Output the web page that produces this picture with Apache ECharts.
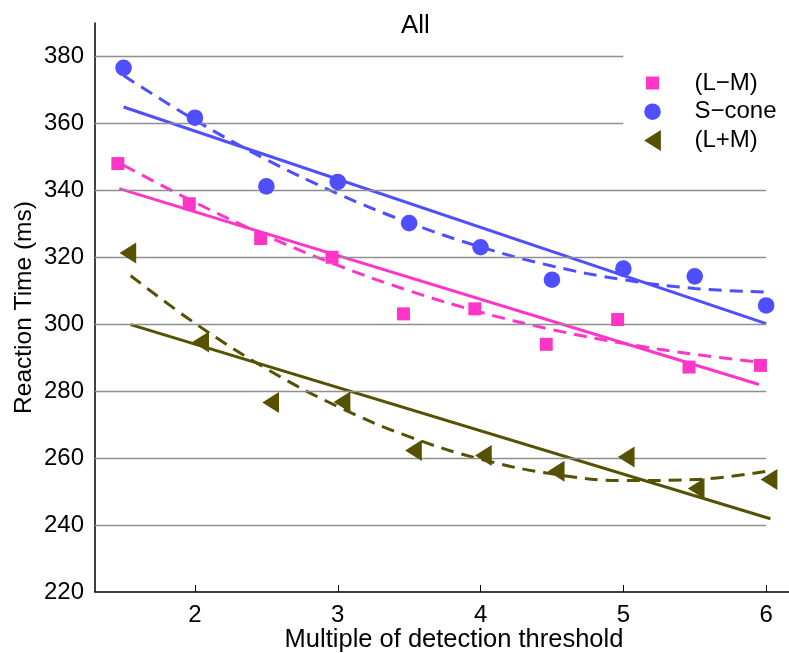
<!DOCTYPE html>
<html>
<head>
<meta charset="utf-8">
<script src="https://cdn.jsdelivr.net/npm/echarts@6/dist/echarts.min.js"></script>
<style>
html,body{margin:0;padding:0;background:#fff;}
#chart{width:789px;height:653px;}
</style>
</head>
<body>
<div id="chart"></div>
<script>
// ---- data ----
var xTicks = [2, 3, 4, 5, 6];
var yTicks = [220, 240, 260, 280, 300, 320, 340, 360, 380];
var gridLinesShort = [360, 380];          // gridlines that stop at x = 5 (behind legend)
var gridLinesLong = [240, 260, 280, 300, 320, 340];

var lmX = [1.46, 1.96, 2.46, 2.96, 3.46, 3.96, 4.46, 4.96, 5.46, 5.96];
var lmY = [348.0, 336.0, 325.6, 320.0, 303.1, 304.6, 294.0, 301.4, 287.2, 287.7];
var sX  = [1.5, 2, 2.5, 3, 3.5, 4, 4.5, 5, 5.5, 6];
var sY  = [376.6, 361.7, 341.2, 342.5, 330.2, 323.0, 313.3, 316.6, 314.3, 305.6];
var lpX = [1.53, 2.04, 2.53, 3.03, 3.53, 4.02, 4.53, 5.02, 5.51, 6.02];
var lpY = [321.3, 294.7, 276.6, 276.8, 262.3, 260.8, 256.1, 260.3, 250.9, 253.6];

// linear fits (solid)
var lmLinX = [1.47, 5.95],  lmLinY = [340.5, 282.0];
var sLinX  = [1.5, 6],      sLinY  = [364.9, 300.2];
var lpLinX = [1.55, 6.03],  lpLinY = [299.9, 241.9];

// curved fits (dashed)
var lmCurX = [1.5, 2, 2.5, 3, 3.5, 4, 4.5, 5, 5.5, 5.95];
var lmCurY = [347.5, 336.4, 326.4, 317.6, 310.0, 303.6, 298.4, 294.3, 291.0, 288.7];
var sCurX  = [1.5, 2, 2.5, 3, 3.5, 4, 4.5, 5, 5.5, 6];
var sCurY  = [374.3, 361.0, 349.2, 339.0, 330.3, 323.1, 317.4, 313.3, 310.7, 309.6];
var lpCurX = [1.55, 2, 2.5, 3, 3.5, 4, 4.5, 5, 5.5, 6.02];
var lpCurY = [314.5, 300.3, 286.7, 275.4, 266.4, 259.7, 255.3, 253.3, 253.6, 256.2];

var names = ['(L\u2212M)', 'S\u2212cone', '(L+M)'];
// ---------------------------------------

function pairs(xs, ys) { return xs.map(function (x, i) { return [x, ys[i]]; }); }

var cPink = '#ff35c8', cBlue = '#4f4fff', cOlive = '#555100';
var FONT = 'Liberation Sans';
var xMin = 1.3, xMax = 6.16;

var triPath = 'path://M0,10.5L16.7,0L16.7,21Z';
var sqIcon = 'path://M0,0M21,21M4,4L17,4L17,17L4,17Z';
var ciIcon = 'path://M0,0M21,21M2.2,10.5A8.3,8.3,0,1,1,18.8,10.5A8.3,8.3,0,1,1,2.2,10.5Z';

function gridMark(vals, xEnd) {
  return vals.map(function (v) { return [{ coord: [xMin, v] }, { coord: [xEnd, v] }]; });
}

function fitLine(name, xs, ys, color, dashed) {
  return {
    name: name, type: 'line', data: pairs(xs, ys), symbol: 'none',
    smooth: dashed ? 0.4 : false, z: 3, silent: true,
    lineStyle: { color: color, width: 3, type: dashed ? [13, 8] : 'solid', cap: 'butt' }
  };
}

var chart = echarts.init(document.getElementById('chart'), null, { renderer: 'canvas' });
chart.setOption({
  animation: false,
  backgroundColor: '#fff',
  title: {
    text: 'All', left: 401, top: 13, padding: 0,
    textStyle: { fontFamily: FONT, fontSize: 26, fontWeight: 'normal', color: '#000' }
  },
  legend: {
    orient: 'vertical', left: 637, top: 66,
    itemWidth: 74, itemHeight: 21, itemGap: 4.7,
    textStyle: { fontFamily: FONT, fontSize: 24, color: '#000' },
    data: [
      { name: names[0], icon: sqIcon },
      { name: names[1], icon: ciIcon },
      { name: names[2], icon: triPath }
    ]
  },
  grid: { left: 95, right: 0, top: 23, bottom: 61, outerBoundsMode: 'none', containLabel: false },
  xAxis: {
    type: 'value', min: xMin, max: xMax,
    name: 'Multiple of detection threshold', nameLocation: 'middle', nameGap: 35, nameMoveOverlap: false,
    nameTextStyle: { fontFamily: FONT, fontSize: 25.5, color: '#000', padding: [0, 0, 0, 24] },
    axisLine: { show: true, lineStyle: { color: '#000', width: 1.5 } },
    axisTick: { show: true, inside: true, length: 7, lineStyle: { color: '#000', width: 1 }, customValues: xTicks },
    axisLabel: { fontFamily: FONT, fontSize: 24, color: '#000', margin: 11, customValues: xTicks },
    splitLine: { show: false }
  },
  yAxis: {
    type: 'value', min: 220, max: 390,
    name: 'Reaction Time (ms)', nameLocation: 'middle', nameGap: 58, nameMoveOverlap: false,
    nameTextStyle: { fontFamily: FONT, fontSize: 24.5, color: '#000' },
    axisLine: { show: true, lineStyle: { color: '#000', width: 1.5 } },
    axisTick: { show: true, inside: true, length: 5, lineStyle: { color: '#444', width: 1 }, customValues: yTicks },
    axisLabel: { fontFamily: FONT, fontSize: 24, color: '#000', margin: 11, customValues: yTicks },
    splitLine: { show: false }
  },
  series: [
    {
      name: 'gridlines', type: 'line', data: [], z: 1, silent: true,
      markLine: {
        silent: true, symbol: ['none', 'none'], label: { show: false },
        lineStyle: { color: '#8f8f8f', width: 1.3, type: 'solid' },
        data: gridMark(gridLinesLong, 6).concat(gridMark(gridLinesShort, 5))
      }
    },
    fitLine('lmLin', lmLinX, lmLinY, cPink, false),
    fitLine('lmCur', lmCurX, lmCurY, cPink, true),
    fitLine('sLin', sLinX, sLinY, cBlue, false),
    fitLine('sCur', sCurX, sCurY, cBlue, true),
    fitLine('lpLin', lpLinX, lpLinY, cOlive, false),
    fitLine('lpCur', lpCurX, lpCurY, cOlive, true),
    {
      name: names[0], type: 'scatter', data: pairs(lmX, lmY), z: 5,
      symbol: 'rect', symbolSize: 13, itemStyle: { color: cPink, opacity: 1 }
    },
    {
      name: names[1], type: 'scatter', data: pairs(sX, sY), z: 5,
      symbol: 'circle', symbolSize: 16.6, itemStyle: { color: cBlue, opacity: 1 }
    },
    {
      name: names[2], type: 'scatter', data: pairs(lpX, lpY), z: 5,
      symbol: triPath, symbolSize: [16.7, 21], itemStyle: { color: cOlive, opacity: 1 }
    }
  ]
});
</script>
</body>
</html>
